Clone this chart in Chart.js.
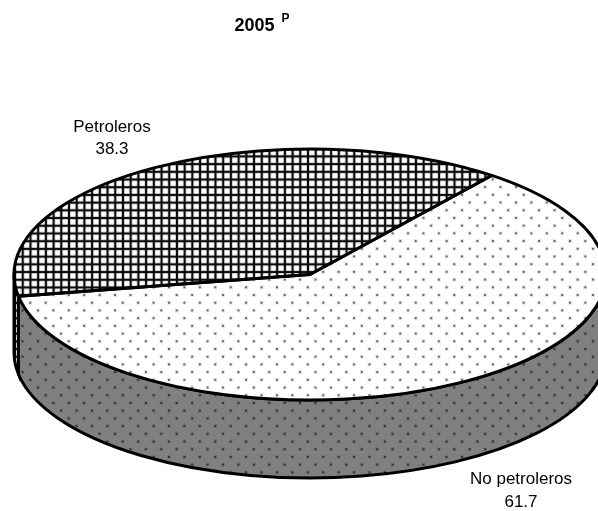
<!DOCTYPE html>
<html>
<head>
<meta charset="utf-8">
<style>
  html, body { margin: 0; padding: 0; background: #fff; }
  canvas { display: block; }
</style>
<script src="https://cdn.jsdelivr.net/npm/chart.js@4"></script>
</head>
<body>
<canvas id="pie" width="598" height="511"></canvas>
<script>
var categories = ["Petroleros", "No petroleros"];
var values = [38.3, 61.7];
var titleText = "2005";
var titleMark = "P";

// size of the flattened pie
var radiusX = 296;
var radiusY = 125.5;
var depth = 78;
var squash = radiusY / radiusX;
var tile = 7.71;

function makeTile(background, paint) {
    var c = document.createElement("canvas");
    c.width = 32;
    c.height = 32;
    var g = c.getContext("2d");
    g.fillStyle = background;
    g.fillRect(0, 0, 32, 32);
    paint(g);
    return c;
}

// lines centred on 4 in each 8 unit cell
function gridTile(g) {
    for (var i = 0; i < 4; i++) {
        g.fillStyle = "rgba(0,0,0,0.18)";
        g.fillRect(i * 8 + 2, 0, 4, 32);
        g.fillRect(0, i * 8 + 2, 32, 4);
    }
    for (var i = 0; i < 4; i++) {
        g.fillStyle = "#0a0a0a";
        g.fillRect(i * 8 + 3, 0, 2, 32);
        g.fillRect(0, i * 8 + 3, 32, 2);
    }
}

function dotTile(g) {
    for (var row = 0; row < 4; row++) {
        for (var col = 0; col < 2; col++) {
            var x = col * 16 + (row % 2 ? 8 : 0) + 4;
            var y = row * 8 + 4;
            g.fillStyle = "rgba(0,0,0,0.1)";
            g.fillRect(x - 2, y - 2, 4, 4);
            g.fillStyle = "rgba(0,0,0,0.7)";
            g.fillRect(x - 0.9, y - 0.9, 1.8, 1.8);
        }
    }
}

var ctx = document.getElementById("pie").getContext("2d");
var gridPattern = ctx.createPattern(makeTile("#fff", gridTile), "repeat");
var whiteDots = ctx.createPattern(makeTile("#fff", dotTile), "repeat");
var grayDots = ctx.createPattern(makeTile("#808080", dotTile), "repeat");
var wallFills = [gridPattern, grayDots];

// where a line crossing / a dot of each pattern sits on the page
var gridPhase = [15, 264.3];
var dotPhase = [107.3, 302.7];

function setPatternScale(pattern, phase, undoSquash, cy) {
    var m = new DOMMatrix();
    if (undoSquash) {
        m = m.translate(0, cy).scale(1, 1 / squash).translate(0, -cy);
    }
    var s = tile / 8;
    m = m.translate(phase[0] - 4 * s, phase[1] - 4 * s).scale(s, s);
    pattern.setTransform(m);
}

var pie3d = {
    id: "pie3d",
    beforeDatasetsDraw: function (chart) {
        var arcs = chart.getDatasetMeta(0).data;
        var cx = arcs[0].x, cy = arcs[0].y;
        var c = chart.ctx;

        setPatternScale(gridPattern, gridPhase, false, cy);
        setPatternScale(grayDots, dotPhase, false, cy);

        // side wall: only the part of each slice on the front half
        arcs.forEach(function (arc, i) {
            var ranges = [[arc.startAngle, arc.endAngle], [arc.startAngle - 2 * Math.PI, arc.endAngle - 2 * Math.PI]];
            ranges.forEach(function (r) {
                var a0 = Math.max(r[0], 0), a1 = Math.min(r[1], Math.PI);
                if (a1 <= a0) return;
                c.beginPath();
                c.ellipse(cx, cy, radiusX, radiusY, 0, a0, a1);
                c.ellipse(cx, cy + depth, radiusX, radiusY, 0, a1, a0, true);
                c.closePath();
                c.fillStyle = wallFills[i];
                c.fill();
                c.lineWidth = 3;
                c.strokeStyle = "#000";
                c.stroke();
            });
        });

        setPatternScale(gridPattern, gridPhase, true, cy);
        setPatternScale(whiteDots, dotPhase, true, cy);

        c.save();
        c.translate(0, cy);
        c.scale(1, squash);
        c.translate(0, -cy);
    },
    afterDatasetsDraw: function (chart) {
        var arcs = chart.getDatasetMeta(0).data;
        var cx = arcs[0].x, cy = arcs[0].y;
        var c = chart.ctx;
        c.restore();

        // outline of the top face, drawn unsquashed so the line stays even
        arcs.forEach(function (arc) {
            c.beginPath();
            c.moveTo(cx, cy);
            c.ellipse(cx, cy, radiusX, radiusY, 0, arc.startAngle, arc.endAngle);
            c.closePath();
            c.lineWidth = 3;
            c.strokeStyle = "#000";
            c.lineJoin = "round";
            c.stroke();
        });

        // texts
        c.fillStyle = "#000";
        c.textBaseline = "alphabetic";
        c.textAlign = "left";
        c.font = "bold 18px 'Liberation Sans'";
        c.fillText(titleText, 234.5, 31);
        c.font = "bold 12px 'Liberation Sans'";
        c.fillText(titleMark, 281.5, 21.5);

        c.textAlign = "center";
        c.font = "17px 'Liberation Sans'";
        c.fillText(categories[0], 112, 131.5);
        c.fillText(values[0].toFixed(1), 112, 154);
        c.fillText(categories[1], 521, 483.5);
        c.fillText(values[1].toFixed(1), 521, 507);
    }
};

new Chart(ctx, {
    type: "pie",
    data: {
        labels: categories,
        datasets: [{
            data: values,
            backgroundColor: [gridPattern, whiteDots],
            borderWidth: 0,
            clip: false
        }]
    },
    options: {
        responsive: false,
        animation: false,
        rotation: 260,
        radius: radiusX,
        layout: { padding: { left: 22, top: 38 } },
        events: [],
        plugins: { legend: { display: false }, tooltip: { enabled: false }, title: { display: false } }
    },
    plugins: [pie3d]
});
</script>
</body>
</html>
